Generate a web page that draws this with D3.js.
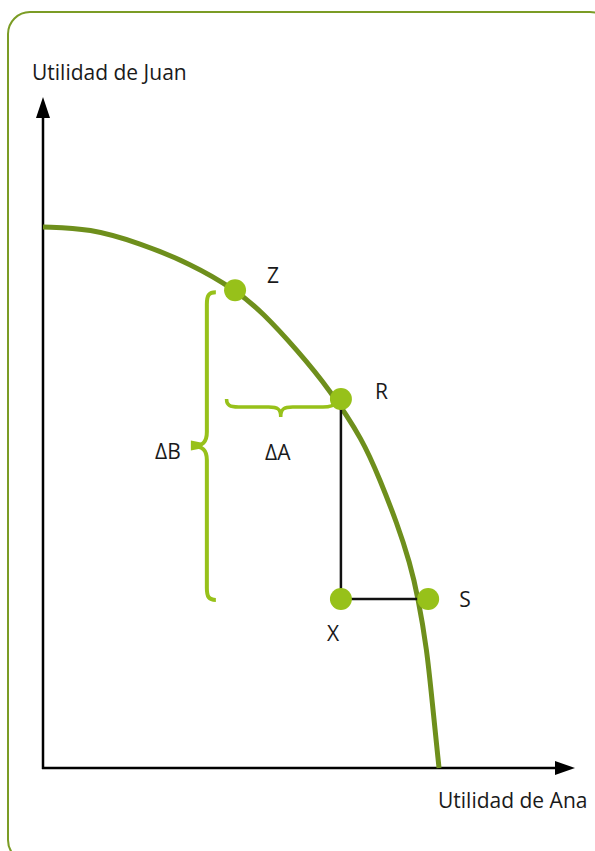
<!DOCTYPE html>
<html><head><meta charset="utf-8">
<script src="https://cdn.jsdelivr.net/npm/d3@7"></script>
<style>body{margin:0;background:#fff}svg{display:block}text{font-family:"Open Sans",sans-serif;font-weight:400;fill:#1a1a1a}</style>
</head><body>
<script>
// Data (utility units on a 0-100 scale)
const axisLabels = ["Utilidad de Ana", "Utilidad de Juan"];
const frontierA = [0, 8.83, 18.23, 27.63, 36.28, 41.35, 47.74, 53.95, 60.15, 63.35, 66.54, 68.98, 70.49, 72.18, 73.12, 74.44];
const frontierB = [80.63, 80.43, 78.20, 75.22, 71.24, 67.81, 62.30, 56.33, 48.88, 42.92, 36.51, 30.55, 25.48, 17.59, 10.13, 0];
const pointNames = ["Z", "R", "X", "S"];
const pointA = [36.1, 56.0, 56.0, 72.4];
const pointB = [71.2, 55.0, 25.2, 25.2];
const deltaLabels = ["ΔA", "ΔB"];

const W = 595, H = 851;
const svg = d3.select("body").append("svg").attr("width", W).attr("height", H);
const x = d3.scaleLinear().domain([0, 100]).range([43, 575]);
const y = d3.scaleLinear().domain([0, 100]).range([768, 97]);

const dark = "#6e8f1c", light = "#97c11a";

// frame
svg.append("rect").attr("x", 8).attr("y", 12).attr("width", 604).attr("height", 850)
  .attr("rx", 22).attr("fill", "none").attr("stroke", "#7b9c25").attr("stroke-width", 2);

// axes
svg.append("line").attr("x1", x(0)).attr("y1", y(0) + 1).attr("x2", x(0)).attr("y2", y(100) + 20)
  .attr("stroke", "#000").attr("stroke-width", 2.5);
svg.append("line").attr("x1", x(0) - 1).attr("y1", y(0)).attr("x2", x(100) - 19).attr("y2", y(0))
  .attr("stroke", "#000").attr("stroke-width", 2.5);
svg.append("path").attr("d", `M${x(0)},${y(100)} L${x(0)-7},${y(100)+21} L${x(0)+7},${y(100)+21} Z`).attr("fill", "#000");
svg.append("path").attr("d", `M${x(100)},${y(0)} L${x(100)-20},${y(0)-7} L${x(100)-20},${y(0)+7} Z`).attr("fill", "#000");

svg.append("text").attr("x", 32).attr("y", 80).attr("font-size", 21).text(axisLabels[1]);
svg.append("text").attr("x", 438).attr("y", 808).attr("font-size", 21).text(axisLabels[0]);

// frontier
const fr = frontierA.map((a, i) => [a, frontierB[i]]);
svg.append("path").datum(fr)
  .attr("d", d3.line().x(d => x(d[0])).y(d => y(d[1])).curve(d3.curveBasis))
  .attr("fill", "none").attr("stroke", dark).attr("stroke-width", 5);

// black segments R-X, X-S
const P = pointNames.map((n, i) => ({n, a: pointA[i], b: pointB[i]}));
const Z = P[0], R = P[1], X = P[2], S = P[3];
svg.append("path").attr("d", `M${x(R.a)},${y(R.b)} L${x(X.a)},${y(X.b)} L${x(S.a)},${y(S.b)}`)
  .attr("fill", "none").attr("stroke", "#111").attr("stroke-width", 2.5);

// braces
function vBrace(xx, y0, y1) {
  const m = (y0 + y1) / 2;
  return `M${xx+9},${y0} C${xx+2},${y0} ${xx},${y0+3} ${xx},${y0+12} L${xx},${m-14} C${xx},${m-4} ${xx-4},${m} ${xx-15},${m}` +
         ` C${xx-4},${m} ${xx},${m+4} ${xx},${m+14} L${xx},${y1-12} C${xx},${y1-3} ${xx+2},${y1} ${xx+9},${y1}`;
}
function hBrace(yy, x0, x1) {
  const m = (x0 + x1) / 2;
  return `M${x0},${yy-8} C${x0},${yy-2} ${x0+3},${yy} ${x0+12},${yy} L${m-12},${yy} C${m-3},${yy} ${m},${yy+2} ${m},${yy+10}` +
         ` C${m},${yy+2} ${m+3},${yy} ${m+12},${yy} L${x1-12},${yy} C${x1-4},${yy} ${x1},${yy-2} ${x1+2},${yy-5}`;
}
const bx = x(30.8), bm = (y(Z.b) + y(X.b)) / 2 + 1;
svg.append("path").attr("d", vBrace(bx, y(Z.b) + 2, y(X.b) + 1))
  .attr("fill", "none").attr("stroke", light).attr("stroke-width", 4);
svg.append("path").attr("d", hBrace(y(53.8), x(34.5), x(R.a) - 6))
  .attr("fill", "none").attr("stroke", light).attr("stroke-width", 3.5);
svg.append("path").attr("d", `M${bx-16},${bm-5} L${bx-6},${bm-3} L${bx-6},${bm+3} L${bx-16},${bm+5} Z`)
  .attr("fill", light);

svg.append("text").attr("x", 155).attr("y", 459).attr("font-size", 21).text(deltaLabels[1]);
svg.append("text").attr("x", 265).attr("y", 460).attr("font-size", 21).text(deltaLabels[0]);

// points
svg.selectAll("circle.pt").data(P).join("circle").attr("class", "pt")
  .attr("cx", d => x(d.a)).attr("cy", d => y(d.b)).attr("r", 11).attr("fill", light);

// point labels
const lab = {Z: [32, -7], R: [34, 0], X: [-14, 42], S: [31, 8]};
svg.selectAll("text.pl").data(P).join("text").attr("class", "pl")
  .attr("x", d => x(d.a) + lab[d.n][0]).attr("y", d => y(d.b) + lab[d.n][1])
  .attr("font-size", 21).text(d => d.n);
</script>
</body></html>
